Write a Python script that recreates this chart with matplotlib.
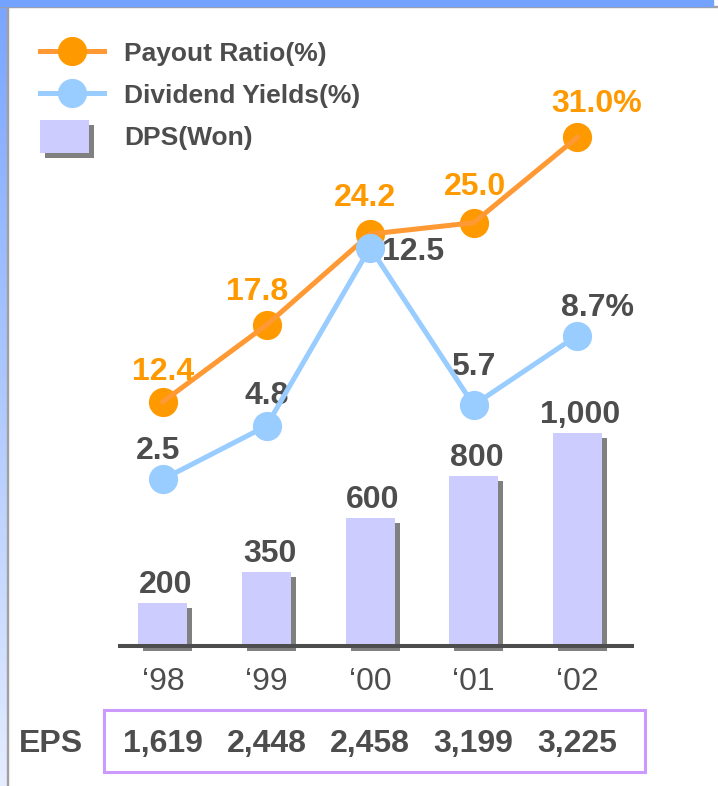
import numpy as np
import matplotlib
matplotlib.use("Agg")
import matplotlib.pyplot as plt
import matplotlib.patheffects as pe
import matplotlib.transforms as mtransforms
from matplotlib.patches import Rectangle
from matplotlib.legend_handler import HandlerPatch

plt.rcParams['font.family'] = ['Liberation Sans', 'DejaVu Sans']

# data
years = ["\u201898", "\u201899", "\u201800", "\u201801", "\u201802"]
dps = [200, 350, 600, 800, 1000]
dps_labels = ["200", "350", "600", "800", "1,000"]
payout = [12.4, 17.8, 24.2, 25.0, 31.0]
payout_labels = ["12.4", "17.8", "24.2", "25.0", "31.0%"]
yields = [2.5, 4.8, 12.5, 5.7, 8.7]
yield_labels = ["2.5", "4.8", "12.5", "5.7", "8.7%"]
eps = ["1,619", "2,448", "2,458", "3,199", "3,225"]

# label offsets in pixels (dx, dy down)
payout_off = [(0, -30), (-9, -33), (-5, -36), (1, -36), (20, -33)]
yield_off = [(-5, -28), (0, -30), (43, 4), (0, -38), (20, -28)]

W, H = 718, 786
DARK = '#4D4D4D'
ORANGE = '#FF9900'
BLUE = '#99CCFF'
FS = 23


def fy(y):
    # pixel row -> figure fraction
    return 1 - y / H


def pts(v):
    return v * 0.72


fig = plt.figure(figsize=(W / 100, H / 100), dpi=100)

# frame at top and left
fig.patches.append(Rectangle((0, fy(7)), 1, 1 / H, transform=fig.transFigure,
                             color='#A0A0A0', zorder=0))
fig.patches.append(Rectangle((0, fy(6)), 713 / W, 6 / H, transform=fig.transFigure,
                             color='#74A2FF', zorder=1))
strip = fig.add_axes([0, 0, 7 / W, fy(6)])
grad = np.linspace(0, 1, 200).reshape(-1, 1)
strip.imshow(grad, aspect='auto', cmap=matplotlib.colors.LinearSegmentedColormap.from_list(
    'strip', ['#7AA6FF', '#E4ECFF']), extent=(0, 1, 0, 1), origin='upper')
strip.axis('off')
fig.patches.append(Rectangle((7 / W, 0), 1 / W, fy(6), transform=fig.transFigure,
                             color='#A0A0A0', zorder=0))

x = np.arange(len(years))
ax = fig.add_axes([120 / W, fy(646), 512 / W, 546 / H])
ax.set_xlim(-0.415, 4.53)
ax.set_ylim(0, 546 / 0.2126)

shadow = [pe.SimplePatchShadow(offset=(3.6, -3.6), shadow_rgbFace='#808080', alpha=1.0),
          pe.Normal()]
bars = ax.bar(x, dps, width=0.473, color='#CCCCFF', zorder=2, clip_on=False,
              path_effects=shadow, label='DPS(Won)')
for xi, v, lbl in zip(x, dps, dps_labels):
    ax.annotate(lbl, (xi, v), xytext=(pts(3), pts(18)), textcoords='offset points',
                ha='center', va='center', fontsize=FS, fontweight='bold', color=DARK)

for s in ['top', 'left', 'right']:
    ax.spines[s].set_visible(False)
ax.spines['bottom'].set_linewidth(2.9)
ax.spines['bottom'].set_color(DARK)
ax.spines['bottom'].set_zorder(3)
ax.set_yticks([])
ax.set_xticks(x, years)
ax.tick_params(axis='x', length=0, pad=15, labelsize=FS, labelcolor=DARK)

# payout ratio
ax2 = ax.twinx()
ax2.set_ylim(-4.8, 33.64)
ax2.plot(x, payout, linestyle='none', marker='o', ms=20, color=ORANGE, zorder=2)
ax2.plot(x, payout, color='#FF9933', lw=3.6, zorder=3)
for xi, v, lbl, (dx, dy) in zip(x, payout, payout_labels, payout_off):
    ax2.annotate(lbl, (xi, v), xytext=(pts(dx), pts(-dy)), textcoords='offset points',
                 ha='center', va='center', fontsize=FS, fontweight='bold', color=ORANGE)

# dividend yield
ax3 = ax.twinx()
ax3.set_ylim(-4.7, 18.87)
ax3.plot(x, yields, color=BLUE, lw=3.6, marker='o', ms=20, zorder=4)
for xi, v, lbl, (dx, dy) in zip(x, yields, yield_labels, yield_off):
    ax3.annotate(lbl, (xi, v), xytext=(pts(dx), pts(-dy)), textcoords='offset points',
                 ha='center', va='center', fontsize=FS, fontweight='bold', color=DARK,
                 zorder=3)

for a in (ax2, ax3):
    a.set_yticks([])
    for s in a.spines.values():
        s.set_visible(False)

# legend
l_pay = matplotlib.lines.Line2D([], [], color='#FF9933', lw=3.6, marker='o', ms=20,
                                mfc=ORANGE, mec=ORANGE)
l_yld = matplotlib.lines.Line2D([], [], color=BLUE, lw=3.6, marker='o', ms=20)


def box_patch(legend, orig_handle, xdescent, ydescent, width, height, fontsize):
    return Rectangle((-xdescent, -ydescent - 3), width * 0.77, height + 6)


fig.legend([l_pay, l_yld, bars.patches[0]],
           ['Payout Ratio(%)', 'Dividend Yields(%)', 'DPS(Won)'],
           handler_map={bars.patches[0]: HandlerPatch(patch_func=box_patch)},
           loc='upper left', bbox_to_anchor=(40 / W, fy(40)), frameon=False,
           borderpad=0, borderaxespad=0, handlelength=2.43, handletextpad=0.76,
           handleheight=1.05, labelspacing=0.6, numpoints=1,
           prop={'size': 19, 'weight': 'bold'}, labelcolor=DARK)

# EPS row
trans = mtransforms.blended_transform_factory(ax.transData, fig.transFigure)
fig.patches.append(Rectangle((104 / W, fy(772)), 541 / W, 62 / H, transform=fig.transFigure,
                             fill=False, edgecolor='#CC99FF', lw=2.2))
fig.text(51 / W, fy(744), 'EPS', ha='center', va='center', fontsize=FS,
         fontweight='bold', color=DARK)
for xi, e in zip(x, eps):
    fig.text(xi, fy(744), e, transform=trans, ha='center', va='center', fontsize=FS,
             fontweight='bold', color=DARK)

fig.savefig('out.png', dpi=100)
